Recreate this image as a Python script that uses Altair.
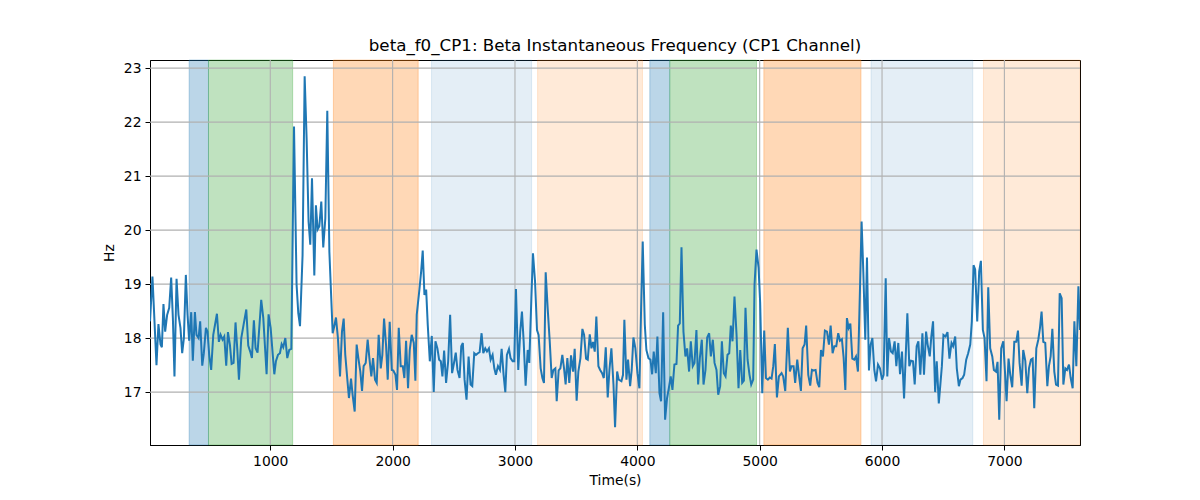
import altair as alt
import pandas as pd

seg1 = [(17,18.31),(37,19.14),(70,17.5),(86,18.26),(103,17.88),(114,17.83),(127,18.63),(141,18.12),(157,18.43),(174,18.56),(190,19.12),(204,18.37),(217,17.29),(234,19.1),(250,18.43),(266,18.19),(280,17.72),(294,18.0),(310,19.17),(324,18.43),(337,17.95),(354,18.48),(367,17.58),(384,18.48),(397,18.06),(414,18.0),(427,18.31),(444,17.49),(457,17.72),(474,18.19),(487,18.12),(501,17.69),(517,17.41),(534,18.06),(564,18.45),(580,17.93),(594,18.06),(610,17.97),(624,18.03),(640,17.49),(654,18.11),(670,17.88),(684,17.52),(700,17.54),(716,18.29),(730,17.81),(744,17.23),(763,18.0),(782,18.25),(804,18.53),(820,17.86),(836,17.75),(850,17.63),(866,18.33),(880,17.81),(896,17.73),(926,18.71),(943,18.37),(970,17.33),(986,18.44),(1003,18.19),(1033,17.33),(1046,17.57),(1063,17.69),(1079,17.72),(1093,17.89),(1106,17.83),(1123,18.0),(1139,17.63),(1155,17.78),(1172,17.80),(1194,21.92),(1215,18.99),(1229,18.46),(1243,18.22)]

seg2 = [(1264,19.54),(1281,22.85),(1297,21.7),(1313,20.16),(1327,19.73),(1341,20.96),(1360,19.16),(1373,20.46),(1387,20.01),(1401,20.07),(1417,20.53),(1433,19.68),(1450,20.22),(1466,22.21),(1483,19.6),(1510,18.09),(1523,18.22),(1537,18.38),(1553,18.0),(1570,17.29),(1586,18.12),(1600,18.36),(1613,17.69),(1630,17.23),(1643,16.89),(1660,17.25),(1673,16.95),(1690,16.64),(1706,17.88),(1720,17.63),(1736,17.38),(1750,17.02),(1763,17.48),(1780,17.54),(1796,17.97),(1810,17.63),(1826,17.29),(1840,17.63),(1856,17.23),(1870,17.17),(1886,18.06),(1903,17.44),(1916,17.69),(1930,18.36),(1946,17.88),(1960,17.23),(1976,18.30),(1993,17.41),(2006,17.40),(2023,17.32),(2036,17.04),(2050,18.19),(2066,17.48),(2083,17.48),(2096,17.26),(2110,17.95),(2126,17.07),(2140,17.78),(2156,18.06),(2173,17.91),(2186,17.21),(2197,18.43),(2219,18.90),(2233,19.23),(2246,19.62),(2260,18.80),(2274,18.90),(2287,18.25),(2304,17.57),(2320,18.04),(2336,17.0),(2350,17.94),(2366,17.81),(2380,17.60),(2394,17.57),(2407,17.29),(2421,17.77),(2437,17.17),(2454,17.57),(2470,18.43),(2486,17.35),(2500,17.52),(2516,17.73),(2530,17.41)]

seg3 = [(2547,17.26),(2561,17.85),(2574,17.91),(2588,17.23),(2604,16.86),(2621,17.66),(2637,17.14),(2651,17.11),(2667,17.72),(2681,17.69),(2697,17.72),(2711,17.74),(2727,18.09),(2741,17.72),(2757,17.81),(2771,17.75),(2787,17.81),(2801,17.60),(2817,17.69),(2831,17.44),(2844,17.32),(2861,17.48),(2877,17.41),(2891,17.80),(2907,17.32),(2921,17.0),(2934,17.69),(2951,17.80),(2964,17.63),(2981,17.57),(2994,17.57),(3008,18.91),(3027,17.41),(3043,18.12),(3057,18.49),(3071,17.94),(3087,17.12),(3104,17.78),(3117,17.54),(3134,18.74),(3147,19.57),(3164,19.05),(3180,18.15),(3193,18.06),(3210,17.44),(3224,17.26),(3237,17.17),(3251,19.22),(3267,18.56),(3284,17.94),(3300,17.26),(3314,17.41),(3330,17.44),(3341,16.83),(3357,17.40),(3371,17.44),(3387,17.69),(3401,17.44),(3414,17.14),(3428,17.63),(3444,17.17),(3458,17.68),(3475,17.38),(3488,17.80),(3504,16.84),(3518,17.38),(3535,17.63),(3551,18.17),(3565,18.06),(3581,17.62),(3595,17.60),(3611,18.07),(3625,17.81),(3638,17.93),(3652,17.75),(3665,18.40),(3682,17.48),(3696,17.41),(3712,17.35),(3726,17.26),(3742,17.83),(3758,16.90),(3772,17.41),(3788,17.81),(3805,17.14),(3818,16.35),(3835,17.38),(3848,17.23)]

seg4 = [(3870,17.20),(3883,17.32),(3894,18.34),(3911,17.23),(3924,17.60),(3941,17.11),(3954,17.41),(3968,18.01),(3984,17.81),(4001,17.35),(4017,17.07),(4031,18.56),(4044,19.79),(4061,18.25),(4074,17.78),(4091,17.63),(4107,17.60),(4121,17.33),(4134,17.75),(4151,17.35),(4164,18.03),(4181,16.98),(4194,16.83),(4211,18.48),(4227,16.49),(4243,16.89),(4257,17.07),(4273,17.29),(4287,17.04),(4303,17.51),(4320,17.52),(4333,18.23),(4347,18.27),(4361,19.68),(4377,18.12),(4393,17.66),(4407,17.81),(4423,17.38),(4437,17.94),(4453,17.48),(4467,17.54),(4483,18.15),(4497,17.14),(4511,17.63),(4527,17.97),(4541,17.14),(4557,17.41),(4571,18.01),(4587,18.09),(4601,17.66),(4617,17.97),(4631,17.54),(4647,17.41),(4661,16.95),(4677,17.11),(4691,17.94),(4707,17.35),(4721,17.29),(4737,17.69),(4751,17.72),(4764,18.23),(4778,17.94),(4794,18.77),(4811,18.06),(4827,17.07),(4841,17.78),(4857,17.17),(4871,17.21),(4884,18.56),(4901,17.60),(4917,17.32),(4931,17.14),(4947,17.23),(4958,18.99),(4974,19.64),(4991,19.30),(5004,18.65),(5021,16.98),(5037,18.14),(5051,17.26),(5067,17.23),(5083,17.27),(5097,17.25),(5111,17.48),(5124,17.89),(5141,16.90),(5157,17.29)]

seg5 = [(5179,17.35),(5192,17.29),(5209,17.02),(5230,18.19),(5247,17.38),(5260,17.48),(5277,17.48),(5290,17.17),(5307,17.60),(5321,17.32),(5337,17.02),(5351,17.81),(5367,17.88),(5380,18.23),(5397,17.32),(5413,17.12),(5427,17.41),(5441,17.40),(5457,17.41),(5473,17.17),(5487,17.09),(5501,17.78),(5517,17.66),(5533,18.14),(5550,18.12),(5566,17.88),(5580,18.23),(5596,17.72),(5610,17.85),(5626,17.85),(5642,18.09),(5656,17.95),(5672,17.98),(5686,17.64),(5700,17.04),(5713,18.37),(5727,18.19),(5741,18.27),(5757,17.62),(5773,17.60),(5787,17.66),(5803,17.38),(5820,18.93),(5833,20.16),(5847,19.23),(5863,17.97),(5877,19.49),(5893,17.40),(5907,17.88),(5921,18.0),(5937,17.41),(5951,17.20),(5967,17.51),(5983,17.44),(6000,17.23),(6013,17.32),(6030,19.11),(6043,17.29),(6057,18.0),(6073,17.75),(6087,17.72),(6103,17.94),(6117,17.48),(6133,17.91),(6147,17.33),(6163,17.75),(6180,16.88),(6193,17.63),(6207,18.46),(6223,17.48),(6237,17.58),(6253,17.57),(6267,17.14),(6283,17.85),(6297,17.94),(6313,17.32),(6330,18.09),(6343,17.32),(6360,18.12),(6373,17.88),(6390,17.66),(6403,18.03),(6417,18.31),(6434,17.0),(6447,17.57),(6464,16.79)]

seg6 = [(6489,17.48),(6502,18.06),(6519,18.03),(6535,18.11),(6551,17.62),(6568,17.91),(6581,17.85),(6598,18.03),(6611,17.44),(6628,17.11),(6641,17.23),(6658,17.26),(6671,17.32),(6688,17.60),(6704,17.72),(6721,17.88),(6734,18.31),(6748,19.35),(6761,19.27),(6778,18.31),(6794,19.23),(6808,19.43),(6824,18.15),(6838,18.0),(6854,17.20),(6868,18.94),(6884,17.81),(6901,17.66),(6914,17.41),(6931,17.38),(6944,17.56),(6958,16.49),(6974,17.81),(6991,17.94),(7004,17.41),(7018,16.83),(7034,17.62),(7048,17.32),(7064,17.09),(7081,17.93),(7097,17.93),(7111,18.14),(7124,17.54),(7141,17.12),(7154,17.78),(7171,17.58),(7187,16.98),(7201,17.44),(7217,17.60),(7231,17.62),(7244,16.70),(7261,17.81),(7277,17.97),(7291,18.19),(7304,18.49),(7318,17.93),(7334,17.91),(7351,17.11),(7364,17.48),(7378,17.66),(7392,18.17),(7408,17.38),(7422,17.14),(7438,17.12),(7452,18.83),(7468,18.74),(7482,17.14),(7498,17.44),(7512,17.41),(7528,17.51),(7542,17.26),(7558,17.07),(7572,18.31),(7588,17.48),(7605,18.96),(7618,18.15)]

band_start = [337, 495, 1516, 2318, 3185, 4102, 4265, 5034, 5910, 6829]
band_end = [495, 1183, 2209, 3136, 4042, 4265, 4974, 5828, 6742, 7618]
band_kind = ["blue", "green", "orange", "lightblue", "lightorange",
             "blue", "green", "orange", "lightblue", "lightorange"]

kind_color = {"blue": "#1f77b4", "green": "#2ca02c", "orange": "#ff7f0e",
              "lightblue": "#1f77b4", "lightorange": "#ff7f0e"}
kind_alpha = {"blue": 0.3, "green": 0.3, "orange": 0.3,
              "lightblue": 0.12, "lightorange": 0.16}

x_ticks = [1000, 2000, 3000, 4000, 5000, 6000, 7000]
y_ticks = [17, 18, 19, 20, 21, 22, 23]

pts = seg1 + seg2 + seg3 + seg4 + seg5 + seg6
line_df = pd.DataFrame(pts, columns=["t", "hz"])
band_df = pd.DataFrame({"start": band_start, "end": band_end, "kind": band_kind})
band_df["col"] = band_df["kind"].map(kind_color)
band_df["alpha"] = band_df["kind"].map(kind_alpha)
xgrid_df = pd.DataFrame({"t": x_ticks})
ygrid_df = pd.DataFrame({"hz": y_ticks})

FONT = "DejaVu Sans"
GRID = "#b0b0b0"
xscale = alt.Scale(domain=[17, 7618], nice=False, zero=False)
yscale = alt.Scale(domain=[16.02, 23.15], nice=False, zero=False)

bands = alt.Chart(band_df).mark_rect(strokeWidth=1).encode(
    x=alt.X("start:Q", scale=xscale),
    x2="end:Q",
    fill=alt.Fill("col:N", scale=None),
    stroke=alt.Stroke("col:N", scale=None),
    fillOpacity=alt.FillOpacity("alpha:Q", scale=None),
    strokeOpacity=alt.StrokeOpacity("alpha:Q", scale=None),
)

xgrid = alt.Chart(xgrid_df).mark_rule(color=GRID, strokeWidth=1.1).encode(
    x=alt.X("t:Q", scale=xscale)
)
ygrid = alt.Chart(ygrid_df).mark_rule(color=GRID, strokeWidth=1.1).encode(
    y=alt.Y("hz:Q", scale=yscale)
)

line = alt.Chart(line_df).mark_line(color="#1f77b4", strokeWidth=2, clip=True).encode(
    x=alt.X("t:Q", scale=xscale,
            axis=alt.Axis(title="Time(s)", values=x_ticks, format="d", grid=False)),
    y=alt.Y("hz:Q", scale=yscale,
            axis=alt.Axis(title="Hz", values=y_ticks, format="d", grid=False)),
)

chart = alt.layer(bands, xgrid, ygrid, line).properties(
    width=930, height=385,
    title=alt.TitleParams("beta_f0_CP1: Beta Instantaneous Frequency (CP1 Channel)",
                          font=FONT, fontSize=16.7, fontWeight="normal", color="black",
                          offset=-8, baseline="alphabetic", anchor="middle"),
    autosize=alt.AutoSizeParams(type="none"),
    padding={"left": 142, "top": 52, "right": 112, "bottom": 47},
).configure_view(stroke="black", strokeWidth=1).configure_axis(
    labelFont=FONT, titleFont=FONT, labelFontSize=13.9, titleFontSize=13.9,
    titleFontWeight="normal", labelColor="black", titleColor="black",
    domainColor="black", tickColor="black", tickSize=5, labelPadding=4,
    domainWidth=1,
).configure_axisX(titlePadding=6).configure_axisY(titlePadding=7)

chart.save("out.html", embed_options={"renderer": "svg", "actions": False})
